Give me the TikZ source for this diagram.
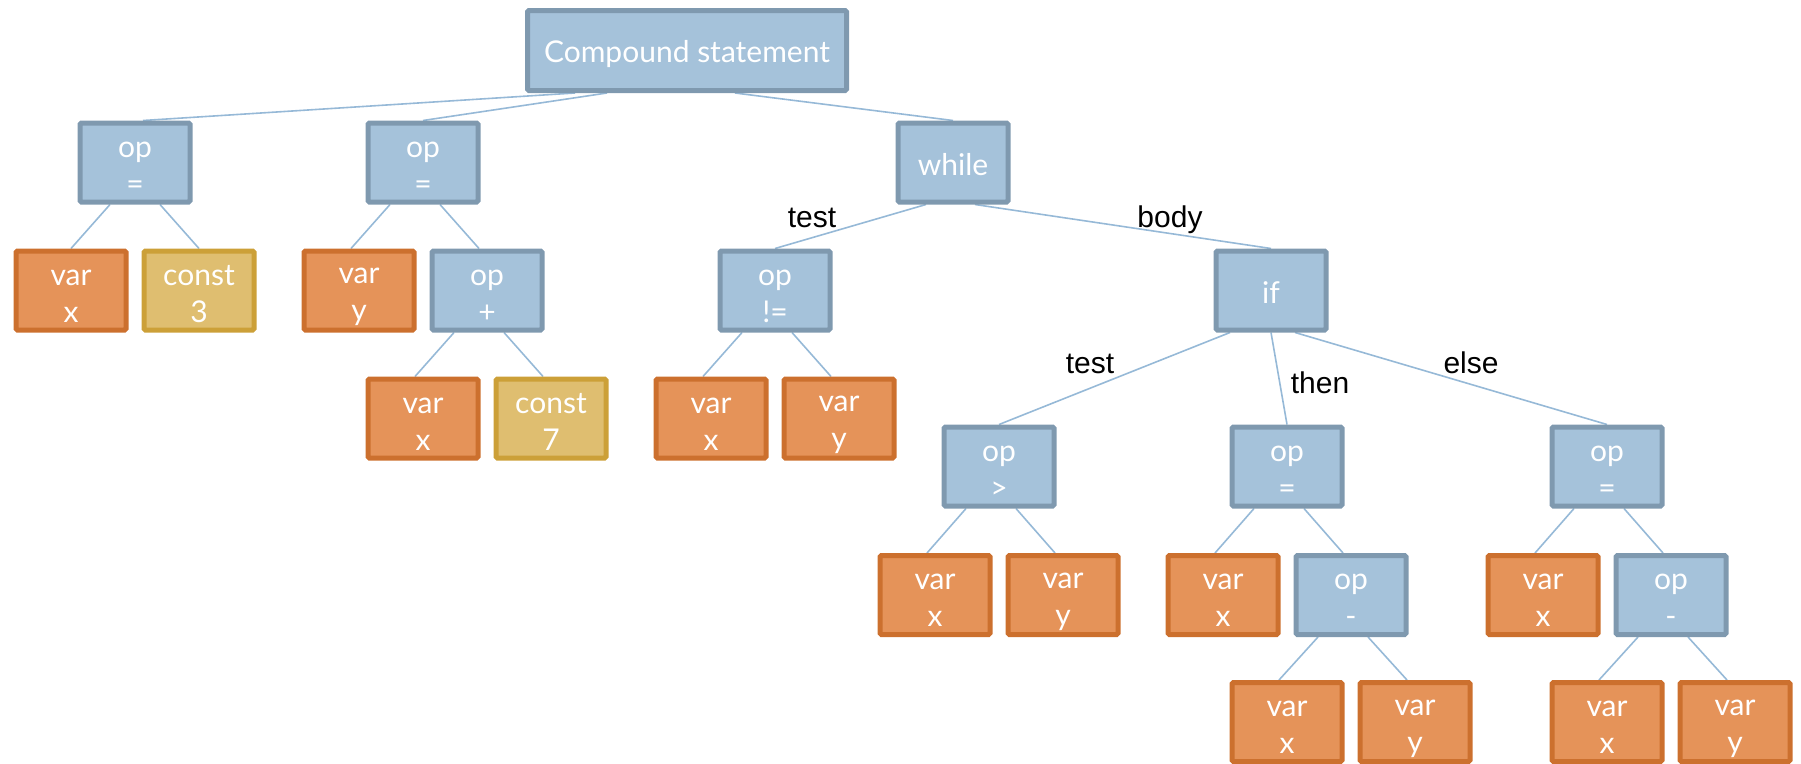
\documentclass[tikz,border=0pt]{standalone}
\usepackage{fontspec}
\setmainfont{Lato}
\newfontfamily\labelfont{Liberation Sans}
\usetikzlibrary{calc,backgrounds}

\definecolor{opfill}{RGB}{165,194,218}
\definecolor{opline}{RGB}{127,153,175}
\definecolor{varfill}{RGB}{229,147,89}
\definecolor{varline}{RGB}{204,112,46}
\definecolor{constfill}{RGB}{223,190,112}
\definecolor{constline}{RGB}{204,160,56}
\definecolor{linkcol}{RGB}{150,185,215}

\newcommand\ls{\rule[-3pt]{0pt}{32pt}}

\tikzset{
  box/.style={draw, line width=5pt, rounded corners=1.5pt,
    minimum width=110pt, minimum height=79pt, inner sep=0pt,
    text=white, align=center, font=\fontsize{30}{37}\selectfont},
  opbox/.style={box, fill=opfill, draw=opline},
  varbox/.style={box, fill=varfill, draw=varline},
  constbox/.style={box, fill=constfill, draw=constline},
  link/.style={draw=linkcol, line width=1.6pt},
  edgelabel/.style={font=\labelfont\fontsize{30}{36}\selectfont,
    anchor=base, inner sep=0pt},
}

% binary operator: two links from the parent's lower edge to its children
\newcommand\binkids[3]{%
  \draw[link] ($(#1.south)+(-33,0)$) -- ($(#2.north)+(-8,0)$);
  \draw[link] ($(#1.south)+(17,0)$) -- ($(#3.north)+(-8,0)$);}

\begin{document}
\begin{tikzpicture}[x=1pt,y=1pt]
\useasboundingbox (0,0) rectangle (1801,-763);

% root
\node[opbox, minimum width=319pt, minimum height=80pt] (root) at (687,-50.5) {\ls Compound statement};

% level 1
\node[opbox] (asgA) at (135,-162.5) {\ls op\\\ls =};
\node[opbox] (asgB) at (423,-162.5) {\ls op\\\ls =};
\node[opbox] (whl)  at (953,-162.5) {\ls while};

% level 2
\node[varbox]   (xA)    at (71,-290.5)   {\ls var\\\ls x};
\node[constbox] (cA)    at (199,-290.5)  {\ls const\\\ls 3};
\node[varbox]   (yB)    at (359,-290.5)  {\ls var\\\ls y};
\node[opbox]    (plusB) at (487,-290.5)  {\ls op\\\ls +};
\node[opbox]    (neW)   at (775,-290.5)  {\ls op\\\ls !=};
\node[opbox]    (ifW)   at (1271,-290.5) {\ls if};

% level 3
\node[varbox]   (xP) at (423,-418.5) {\ls var\\\ls x};
\node[constbox] (cP) at (551,-418.5) {\ls const\\\ls 7};
\node[varbox]   (xN) at (711,-418.5) {\ls var\\\ls x};
\node[varbox]   (yN) at (839,-418.5) {\ls var\\\ls y};

% if branches
\node[opbox] (gt)   at (999,-466.5)  {\ls op\\\ls >};
\node[opbox] (asgT) at (1287,-466.5) {\ls op\\\ls =};
\node[opbox] (asgE) at (1607,-466.5) {\ls op\\\ls =};

% level 5
\node[varbox] (xG)   at (935,-595)  {\ls var\\\ls x};
\node[varbox] (yG)   at (1063,-595) {\ls var\\\ls y};
\node[varbox] (xT)   at (1223,-595) {\ls var\\\ls x};
\node[opbox]  (minT) at (1351,-595) {\ls op\\\ls -};
\node[varbox] (xE)   at (1543,-595) {\ls var\\\ls x};
\node[opbox]  (minE) at (1671,-595) {\ls op\\\ls -};

% level 6
\node[varbox] (xMT) at (1287,-722) {\ls var\\\ls x};
\node[varbox] (yMT) at (1415,-722) {\ls var\\\ls y};
\node[varbox] (xME) at (1607,-722) {\ls var\\\ls x};
\node[varbox] (yME) at (1735,-722) {\ls var\\\ls y};

% edge labels
\node[edgelabel] (lTest)  at (812,-227)  {test};
\node[edgelabel] (lBody)  at (1170,-227) {body};
\node[edgelabel] (lTest2) at (1090,-373) {test};
\node[edgelabel] (lThen)  at (1320,-393) {then};
\node[edgelabel] (lElse)  at (1471,-373) {else};

% links
\begin{scope}[on background layer]
  \draw[link] ($(root.south)+(-112,0)$) -- ($(asgA.north)+(8,0)$);
  \draw[link] ($(root.south)+(-80,0)$) -- (asgB.north);
  \draw[link] ($(root.south)+(48,0)$) -- (whl.north);

  \draw[link] ($(asgA.south)+(-25,0)$) -- (xA.north);
  \draw[link] ($(asgA.south)+(25,0)$) -- (cA.north);
  \binkids{asgB}{yB}{plusB}
  \binkids{plusB}{xP}{cP}

  \draw[link] ($(whl.south)+(-27,0)$) -- (neW.north);
  \draw[link] ($(whl.south)+(22,0)$) -- (ifW.north);
  \binkids{neW}{xN}{yN}

  \draw[link] ($(ifW.south)+(-41,0)$) -- (gt.north);
  \draw[link] (ifW.south) -- (asgT.north);
  \draw[link] ($(ifW.south)+(24,0)$) -- (asgE.north);

  \binkids{gt}{xG}{yG}
  \binkids{asgT}{xT}{minT}
  \binkids{minT}{xMT}{yMT}
  \binkids{asgE}{xE}{minE}
  \binkids{minE}{xME}{yME}
\end{scope}
\end{tikzpicture}
\end{document}
